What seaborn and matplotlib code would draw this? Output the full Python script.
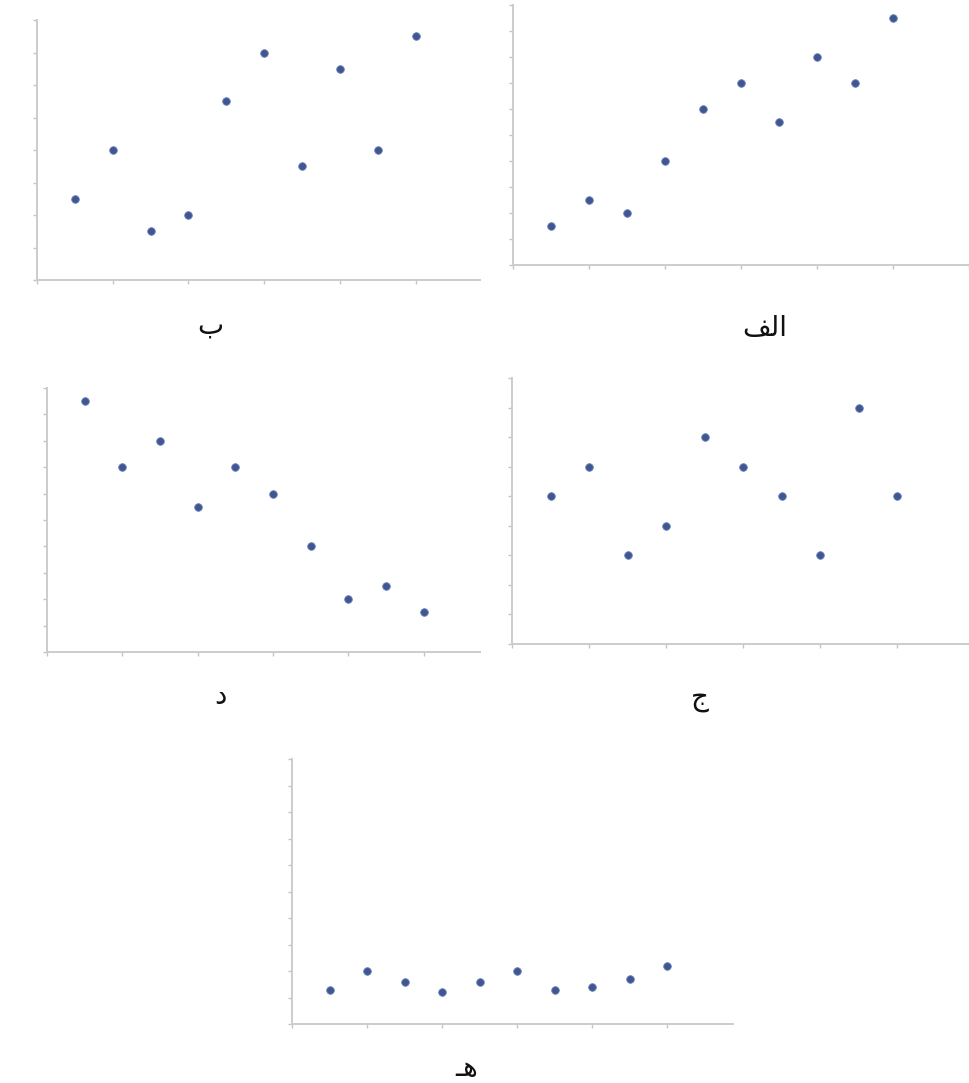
import numpy as np
import pandas as pd
import matplotlib
matplotlib.use('Agg')
import matplotlib.pyplot as plt
import seaborn as sns

sns.set_style('white')
plt.rcParams['font.family'] = ['DejaVu Sans']

# x positions shared by all five panels
x_vals = [1, 2, 3, 4, 5, 6, 7, 8, 9, 10]

# y values of each panel
y_alef = [1.5, 2.5, 2, 4, 6, 7, 5.5, 8, 7, 9.5]
y_be = [2.5, 4, 1.5, 2, 5.5, 7, 3.5, 6.5, 4, 7.5]
y_jim = [5, 6, 3, 4, 7, 6, 5, 3, 8, 5]
y_dal = [9.5, 7, 8, 5.5, 7, 6, 4, 2, 2.5, 1.5]
y_he = [1.3, 2.0, 1.6, 1.2, 1.6, 2.0, 1.3, 1.4, 1.7, 2.2]

# panel captions (visual order, pre-shaped glyphs)
lbl_alef = '\uFED2\uFEDF\u0627'   # الف
lbl_be = '\uFE8F'                 # ب
lbl_jim = '\uFE9D'                # ج
lbl_dal = '\uFEA9'                # د
lbl_he = '\u0640\uFEEB'           # هـ

W, H = 969, 1083
fig = plt.figure(figsize=(W / 100, H / 100), dpi=100)

marker_col = '#3f5790'
axis_col = '#cccccc'


def panel(left, right, bottom, top, yvals, xmax, ymax, label, lx, ly):
    ax = fig.add_axes([left / W, 1 - bottom / H, (right - left) / W, (bottom - top) / H])
    df = pd.DataFrame({'x': x_vals, 'y': yvals})
    sns.scatterplot(data=df, x='x', y='y', ax=ax, color=marker_col, s=30,
                    marker='o', edgecolor='#6a80b8', linewidth=0.6, zorder=3)
    ax.set_xlim(0, xmax)
    ax.set_ylim(0, ymax)
    ax.set_xticks(np.arange(0, xmax + 0.01, 2))
    ax.set_yticks(np.arange(0, ymax + 0.01, 1))
    ax.set_xticklabels([])
    ax.set_yticklabels([])
    ax.set_xlabel('')
    ax.set_ylabel('')
    for s in ['top', 'right']:
        ax.spines[s].set_visible(False)
    for s in ['left', 'bottom']:
        ax.spines[s].set_color(axis_col)
        ax.spines[s].set_linewidth(1.4)
    ax.tick_params(axis='both', bottom=True, left=True, length=3, width=1,
                   color='#c4c4c4', direction='out')
    ax.patch.set_alpha(0)
    fig.text(lx / W, 1 - ly / H, label, ha='center', va='center',
             fontsize=20, color='#111111')
    return ax


panel(37, 480, 280, 20, y_be, 11.7, 8, lbl_be, 210, 326)
panel(513, 969, 265, 5, y_alef, 12, 10, lbl_alef, 765, 328)
panel(47, 480, 652, 388, y_dal, 11.5, 10, lbl_dal, 220, 696)
panel(512, 969, 644, 378, y_jim, 11.87, 9, lbl_jim, 700, 698)
panel(292, 733, 1024, 759, y_he, 11.76, 10, lbl_he, 467, 1068)

fig.savefig('out.png', dpi=100)
